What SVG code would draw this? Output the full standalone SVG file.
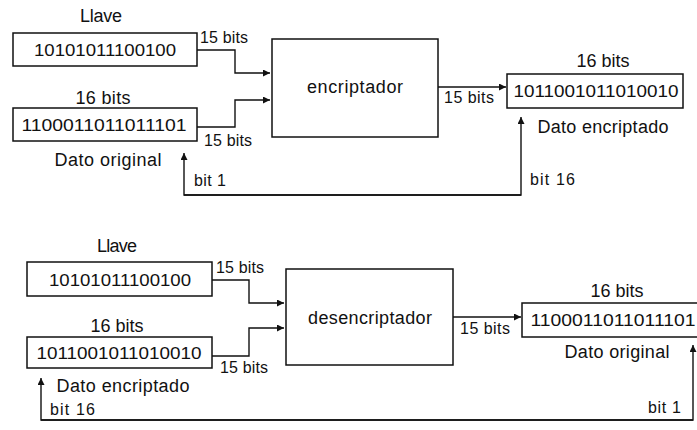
<svg xmlns="http://www.w3.org/2000/svg" width="697" height="430" viewBox="0 0 697 430">
<style>
text{font-family:"Liberation Sans","DejaVu Sans",sans-serif;fill:#111}
.box{fill:#fff;stroke:#111;stroke-width:1.5}
.bin{font-size:17px;text-anchor:middle}
.lbl{font-size:16px}
.big{font-size:18px;text-anchor:middle}
.c{fill:none;stroke:#111;stroke-width:1.4}
</style>
<defs>
<marker id="ah" viewBox="0 0 8 8" refX="8" refY="4" markerWidth="7" markerHeight="7" markerUnits="userSpaceOnUse" orient="auto">
<path d="M0,0 L8,4 L0,8 z" fill="#111"/>
</marker>
</defs>
<rect width="697" height="430" fill="#fff"/>
<g id="connectors">
<path class="c" d="M197,50 H235 V73 H270" marker-end="url(#ah)"/>
<path class="c" d="M197,127 H235 V100 H270" marker-end="url(#ah)"/>
<path class="c" d="M438,87 H506" marker-end="url(#ah)"/>
<path class="c" d="M521,195 H184 V153" marker-end="url(#ah)"/>
<path class="c" d="M184,195 H521 V117" marker-end="url(#ah)"/>
<path class="c" d="M212,280 H249 V303 H284" marker-end="url(#ah)"/>
<path class="c" d="M212,356 H249 V328 H284" marker-end="url(#ah)"/>
<path class="c" d="M453,317 H521" marker-end="url(#ah)"/>
<path class="c" d="M693,420 H41 V378" marker-end="url(#ah)"/>
<path class="c" d="M41,420 H693 V345" marker-end="url(#ah)"/>
<text class="lbl" x="200" y="43" textLength="48">15 bits</text>
<text class="lbl" x="204" y="146" textLength="48">15 bits</text>
<text class="lbl" x="444" y="103" textLength="50">15 bits</text>
<text class="lbl" x="194" y="186" textLength="32">bit 1</text>
<text class="lbl" x="530" y="185" textLength="45">bit 16</text>
<text class="lbl" x="216" y="273" textLength="48">15 bits</text>
<text class="lbl" x="220" y="373" textLength="48">15 bits</text>
<text class="lbl" x="460" y="334" textLength="50">15 bits</text>
<text class="lbl" x="50" y="415" textLength="45">bit 16</text>
<text class="lbl" x="648" y="413" textLength="33">bit 1</text>
</g>
<g id="llave1">
<text class="big" x="101" y="22" textLength="42">Llave</text>
<rect class="box" x="13" y="33" width="184" height="33"/>
<text class="bin" x="105" y="56" textLength="142" lengthAdjust="spacingAndGlyphs">10101011100100</text>
</g>
<g id="dato1">
<text class="big" x="103" y="104" textLength="55">16 bits</text>
<rect class="box" x="13" y="108" width="184" height="33"/>
<text class="bin" x="104" y="131" textLength="165" lengthAdjust="spacingAndGlyphs">1100011011011101</text>
<text class="big" x="108" y="166" textLength="107">Dato original</text>
</g>
<g id="encriptador">
<rect class="box" x="272" y="39" width="166" height="98"/>
<text class="big" x="355" y="93" textLength="96">encriptador</text>
</g>
<g id="salida1">
<text class="big" x="603" y="67" textLength="53">16 bits</text>
<rect class="box" x="507" y="74" width="176" height="34"/>
<text class="bin" x="596" y="97" textLength="165" lengthAdjust="spacingAndGlyphs">1011001011010010</text>
<text class="big" x="603" y="133" textLength="131">Dato encriptado</text>
</g>
<g id="llave2">
<text class="big" x="117" y="252" textLength="40">Llave</text>
<rect class="box" x="27" y="262" width="185" height="34"/>
<text class="bin" x="120" y="286" textLength="142" lengthAdjust="spacingAndGlyphs">10101011100100</text>
</g>
<g id="dato2">
<text class="big" x="117" y="332" textLength="53">16 bits</text>
<rect class="box" x="27" y="337" width="185" height="31"/>
<text class="bin" x="119" y="359" textLength="165" lengthAdjust="spacingAndGlyphs">1011001011010010</text>
<text class="big" x="123" y="392" textLength="133">Dato encriptado</text>
</g>
<g id="desencriptador">
<rect class="box" x="286" y="269" width="167" height="96"/>
<text class="big" x="370" y="324" textLength="124">desencriptador</text>
</g>
<g id="salida2">
<text class="big" x="617" y="297" textLength="53">16 bits</text>
<rect class="box" x="522" y="303" width="180" height="34"/>
<text class="bin" x="613" y="326" textLength="165" lengthAdjust="spacingAndGlyphs">1100011011011101</text>
<text class="big" x="617" y="358" textLength="105">Dato original</text>
</g>
</svg>
